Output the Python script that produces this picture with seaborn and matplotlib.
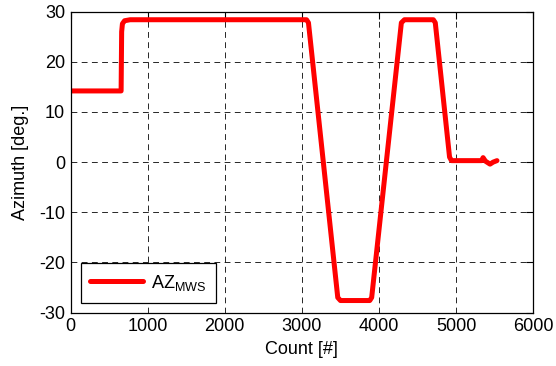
import matplotlib
matplotlib.use("Agg")
import matplotlib.pyplot as plt
import seaborn as sns
import pandas as pd

# Azimuth trace of the MWS against the sample counter
count = [0, 655, 662, 672, 700, 772, 3060, 3085, 3465, 3500, 3880, 3905,
         4290, 4330, 4705, 4730, 4915, 4940, 5330, 5350, 5380, 5440, 5480, 5530]
azimuth = [14.2, 14.2, 26.0, 27.6, 28.2, 28.4, 28.4, 27.8, -27.0, -27.6, -27.6, -27.0,
           27.8, 28.4, 28.4, 27.8, 1.0, 0.3, 0.3, 0.9, 0.2, -0.4, 0.0, 0.3]
series_label = r"AZ$_{\mathregular{MWS}}$"

x_ticks = [0, 1000, 2000, 3000, 4000, 5000, 6000]
y_ticks = [-30, -20, -10, 0, 10, 20, 30]

sns.set_style("white")
plt.rcParams["font.family"] = ["Liberation Sans", "DejaVu Sans"]
plt.rcParams["mathtext.fontset"] = "custom"
plt.rcParams["mathtext.rm"] = "Liberation Sans"
plt.rcParams["mathtext.it"] = "Liberation Sans"
plt.rcParams["axes.unicode_minus"] = False
plt.rcParams["text.color"] = "black"
plt.rcParams["axes.labelcolor"] = "black"

df = pd.DataFrame({"Count": count, "Azimuth": azimuth, "series": series_label})

fig = plt.figure(figsize=(5.56, 3.66), dpi=100)
ax = fig.add_axes([0.127, 0.146, 0.832, 0.822])

sns.lineplot(data=df, x="Count", y="Azimuth", hue="series", palette=["#ff0000"],
             linewidth=3.6, ax=ax, sort=False, estimator=None)
for ln in ax.lines:
    ln.set_solid_joinstyle("round")
    ln.set_solid_capstyle("round")

ax.set_xlim(0, 6000)
ax.set_ylim(-30, 30)
ax.set_xticks(x_ticks)
ax.set_yticks(y_ticks)
ax.tick_params(direction="in", length=5, width=0.8, top=True, right=True,
               labelsize=13, colors="black", pad=4)
ax.grid(True, color="black", linestyle=(0, (6, 4.5)), linewidth=0.7, alpha=0.85)
for sp in ax.spines.values():
    sp.set_color("black")
    sp.set_linewidth(0.9)

ax.set_xlabel("Count [#]", fontsize=13, labelpad=4)
ax.set_ylabel("Azimuth [deg.]", fontsize=13, labelpad=7)

leg = ax.legend(loc="lower left", fontsize=13, frameon=True, fancybox=False,
                edgecolor="black", framealpha=1, handlelength=2.9,
                handletextpad=0.45, borderaxespad=0.55, borderpad=0.55)
leg.get_frame().set_linewidth(0.9)

fig.savefig("out.png", dpi=100)
